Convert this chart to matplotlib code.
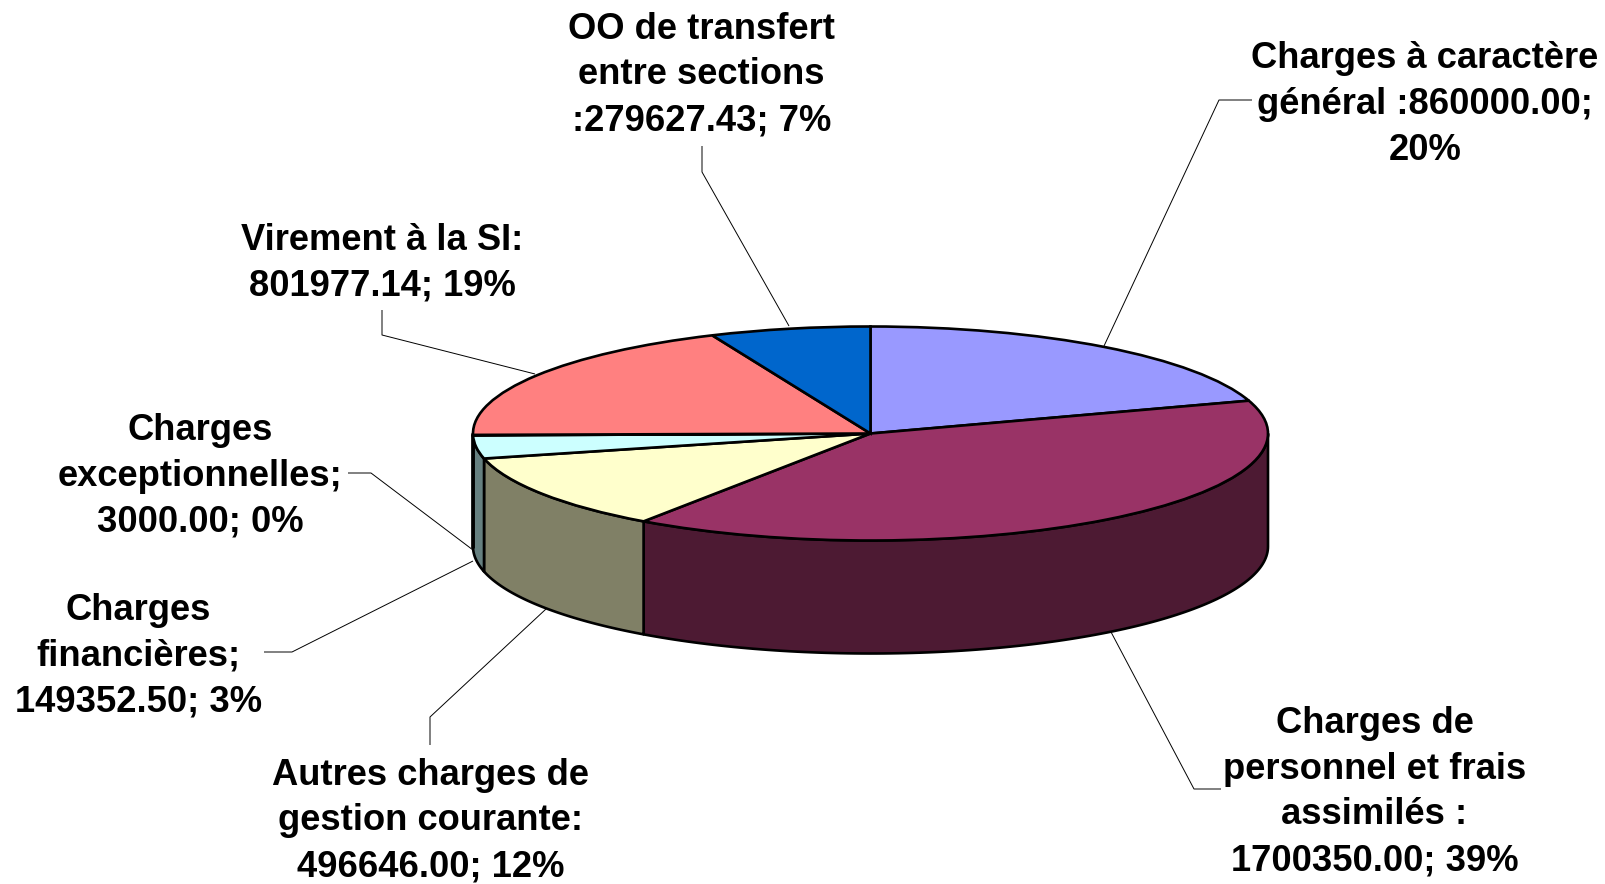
import numpy as np
import matplotlib
matplotlib.use('Agg')
import matplotlib.pyplot as plt

labels = ['Charges à caractère\ngénéral :860000.00;\n20%',
          'Charges de\npersonnel et frais\nassimilés :\n1700350.00; 39%',
          'Autres charges de\ngestion courante:\n496646.00; 12%',
          'Charges\nfinancières;\n149352.50; 3%',
          'Charges\nexceptionnelles;\n3000.00; 0%',
          'Virement à la SI:\n801977.14; 19%',
          'OO de transfert\nentre sections\n:279627.43; 7%']
values = [860000.00, 1700350.00, 496646.00, 149352.50, 3000.00, 801977.14, 279627.43]
top_colors = ['#9999FF', '#993366', '#FFFFCC', '#CCFFFF', '#660066', '#FF8080', '#0066CC']
side_colors = ['#4D4D80', '#4D1A33', '#808066', '#668080', '#330033', '#804040', '#003366']

W, H = 1606, 884
cx, cy = 870.5, 433.5
rx, ry = 397.5, 107
depth = 113

fig = plt.figure(figsize=(W/100, H/100), dpi=100, facecolor='white')

# pixel axes for the labels and leader lines
bg = fig.add_axes([0, 0, 1, 1])
bg.set_xlim(0, W)
bg.set_ylim(H, 0)
bg.axis('off')

label_pos = [(1425, 104.5), (1374.5, 792), (430.5, 821), (138.5, 656), (200, 476.5), (382, 263), (701.5, 75)]
leaders = [[(1252, 100), (1219, 100), (1104, 346)],
           [(1221, 789), (1194, 789), (1111, 632)],
           [(430, 745), (430, 717), (546, 609)],
           [(264, 652), (292, 652), (473, 561)],
           [(348, 473), (371, 473), (473, 550)],
           [(382, 310), (382, 335), (535, 374)],
           [(702, 146), (702, 172), (789, 326)]]
for line in leaders:
    xs = [p[0] for p in line]
    ys = [p[1] for p in line]
    bg.plot(xs, ys, color='black', lw=0.7, solid_capstyle='butt')
for txt, pos in zip(labels, label_pos):
    bg.text(pos[0], pos[1], txt, ha='center', va='center', family='Liberation Sans',
            fontweight='bold', fontsize=26.2, linespacing=1.4, color='black')

# pie axes stretched so the circle of radius 1 is the top ellipse
ax = fig.add_axes([0, 0, 1, 1])
ax.patch.set_alpha(0)
ax.pie(values, colors=top_colors, startangle=90, counterclock=False, radius=1,
       wedgeprops={'edgecolor': 'black', 'linewidth': 1.9, 'zorder': 3})
ax.set_aspect('auto')
ax.set_xlim((0-cx)/rx, (W-cx)/rx)
ax.set_ylim((cy-H)/ry, cy/ry)

# side wall, only the front half of the disc shows
d = depth/ry
fracs = np.cumsum([0] + values)/sum(values)*2*np.pi
for i in range(len(values)):
    t0 = max(fracs[i], np.pi/2)
    t1 = min(fracs[i+1], 3*np.pi/2)
    if t1 <= t0:
        continue
    t = np.linspace(t0, t1, 120)
    x = np.sin(t)
    y = np.cos(t)
    ax.fill(np.r_[x, x[::-1]], np.r_[y, y[::-1]-d], facecolor=side_colors[i],
            edgecolor='black', lw=1.9, zorder=2, joinstyle='round')

fig.savefig('out.png', dpi=100)
